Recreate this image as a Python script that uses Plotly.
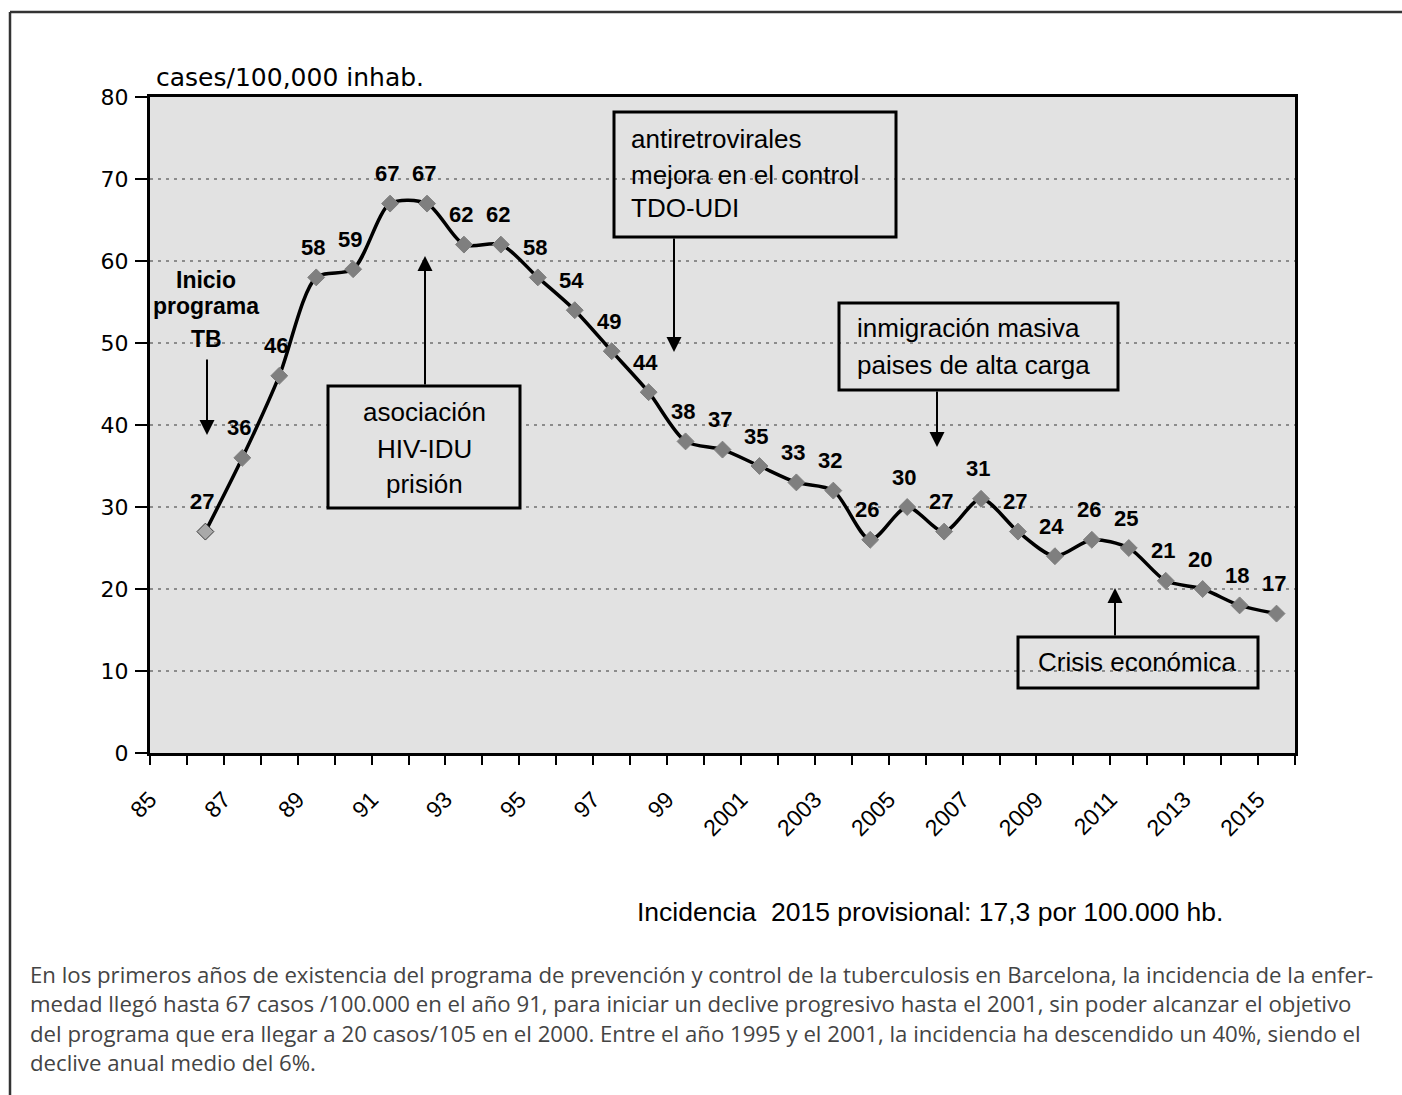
import plotly.graph_objects as go

# Tuberculosis incidence in Barcelona, cases per 100,000 inhabitants
years = list(range(1986, 2016))
incidence = [27, 36, 46, 58, 59, 67, 67, 62, 62, 58, 54, 49, 44, 38, 37,
             35, 33, 32, 26, 30, 27, 31, 27, 24, 26, 25, 21, 20, 18, 17]

# Axis categories and labels (every other year is labelled)
all_years = list(range(1985, 2016))
label_years = all_years[::2]
label_text = [str(y)[2:] if y < 2000 else str(y) for y in label_years]

y_title = "cases/100,000 inhab."
footnote = "Incidencia\u00a0 2015 provisional: 17,3 por 100.000 hb."
caption_lines = [
    "En los primeros años de existencia del programa de prevención y control de la tuberculosis en Barcelona, la incidencia de la enfer-",
    "medad llegó hasta 67 casos /100.000 en el año 91, para iniciar un declive progresivo hasta el 2001, sin poder alcanzar el objetivo",
    "del programa que era llegar a 20 casos/105 en el 2000. Entre el año 1995 y el 2001, la incidencia ha descendido un 40%, siendo el",
    "declive anual medio del 6%.",
]

W, H = 1402, 1095
L, R, T, B = 150, 1295, 97, 753  # plot area in page pixels

ARIAL = "Liberation Sans, Arial, sans-serif"
VERDANA = "DejaVu Sans, Verdana, sans-serif"
BG = "#e2e2e2"


def px(x):
    return (x - L) / (R - L)


def py(y):
    return (B - y) / (B - T)


fig = go.Figure()

marker_fill = ["#a9a9a9"] + ["#7f7f7f"] * (len(years) - 1)
marker_edge = ["#3a3a3a"] + ["#7f7f7f"] * (len(years) - 1)

fig.add_trace(go.Scatter(
    x=years, y=incidence,
    mode="lines+markers",
    line=dict(color="black", width=3.5, shape="spline", smoothing=0.8),
    marker=dict(symbol="diamond", size=13, color=marker_fill,
                line=dict(color=marker_edge, width=1)),
    hoverinfo="x+y",
    showlegend=False,
))

annotations = []

# value labels above each point
for yr, v in zip(years, incidence):
    annotations.append(dict(
        x=yr, y=v, xref="x", yref="y", text=str(v), showarrow=False,
        yshift=30, xshift=-3,
        font=dict(family=ARIAL, size=22, color="black", weight="bold"),
    ))


def text_at(x, y, s, size=26, anchor="left", bold=False, family=ARIAL, color="black"):
    annotations.append(dict(
        x=px(x), y=py(y), xref="paper", yref="paper", text=s, showarrow=False,
        xanchor=anchor, yanchor="middle",
        font=dict(family=family, size=size, color=color,
                  weight="bold" if bold else "normal"),
    ))


def arrow(x0, y0, x1, y1):
    # tail at (x0, y0), head at (x1, y1), page pixels
    annotations.append(dict(
        x=px(x1), y=py(y1), xref="paper", yref="paper", text="",
        showarrow=True, arrowhead=2, arrowsize=1.5, arrowwidth=2,
        arrowcolor="black", ax=x0 - x1, ay=y0 - y1, standoff=0,
    ))


shapes = []


def box(x0, y0, x1, y1, fill=None):
    shapes.append(dict(
        type="rect", xref="paper", yref="paper",
        x0=px(x0), x1=px(x1), y0=py(y1), y1=py(y0),
        line=dict(color="black", width=3),
        fillcolor=fill if fill else "rgba(0,0,0,0)", layer="above",
    ))


# Programme start
text_at(206, 280, "Inicio", size=23, anchor="center", bold=True)
text_at(206, 306, "programa", size=23, anchor="center", bold=True)
text_at(206, 339, "TB", size=23, anchor="center", bold=True)
arrow(207, 358, 207, 435)

# HIV / IDU / prison box
box(328, 386, 520, 508, fill=BG)
text_at(424, 412, "asociación", anchor="center")
text_at(424, 449, "HIV-IDU", anchor="center")
text_at(424, 484, "prisión", anchor="center")
arrow(425, 386, 425, 256)

# antiretroviral box
box(614, 112, 896, 237)
text_at(629, 139, "antiretrovirales")
text_at(629, 175, "mejora en el control")
text_at(629, 208, "TDO-UDI")
arrow(674, 237, 674, 352)

# immigration box
box(839, 303, 1118, 390)
text_at(855, 328, "inmigración masiva")
text_at(855, 365, "paises de alta carga")
arrow(937, 390, 937, 447)

# economic crisis box
box(1018, 637, 1258, 688)
text_at(1137, 662, "Crisis económica", anchor="center")
arrow(1115, 637, 1115, 588)

# axis unit, footnote and caption
text_at(154, 78, y_title, size=25, family=VERDANA)
text_at(635, 912, footnote, size=26.5)
for i, line in enumerate(caption_lines):
    text_at(28, 974 + 29.5 * i, line, size=22.2,
            family="Open Sans, Noto Sans, sans-serif", color="#444444")

# outer frame (top and left edges)
shapes.append(dict(type="line", xref="paper", yref="paper",
                   x0=px(10), x1=px(W + 5), y0=py(12), y1=py(12),
                   line=dict(color="#333333", width=2.5)))
shapes.append(dict(type="line", xref="paper", yref="paper",
                   x0=px(10), x1=px(10), y0=py(12), y1=py(H + 5),
                   line=dict(color="#333333", width=2.5)))

boundaries = [y - 0.5 for y in all_years] + [all_years[-1] + 0.5]

fig.update_layout(
    width=W, height=H,
    margin=dict(l=L, r=W - R, t=T, b=H - B),
    paper_bgcolor="white", plot_bgcolor=BG,
    annotations=annotations, shapes=shapes,
    showlegend=False,
    xaxis=dict(
        range=[all_years[0] - 0.5, all_years[-1] + 0.5],
        tickmode="array",
        tickvals=[y - 0.5 for y in label_years],
        ticktext=label_text,
        tickangle=-45, ticks="",
        ticklabelstandoff=21,
        tickfont=dict(family=ARIAL, size=23, color="black"),
        minor=dict(tickmode="array", tickvals=boundaries, ticks="outside",
                   ticklen=9, tickwidth=2, tickcolor="black", showgrid=False),
        showgrid=False, zeroline=False,
        showline=True, linecolor="black", linewidth=3, mirror=True,
    ),
    yaxis=dict(
        range=[0, 80], tickmode="linear", tick0=0, dtick=10,
        ticks="outside", ticklen=12, tickwidth=2, tickcolor="black",
        ticklabelstandoff=2,
        tickfont=dict(family=VERDANA, size=22, color="black"),
        showgrid=True, gridcolor="#8c8c8c", gridwidth=1.5, griddash="3px,5px",
        zeroline=False,
        showline=True, linecolor="black", linewidth=3, mirror=True,
    ),
)

fig.write_html("out.html")
